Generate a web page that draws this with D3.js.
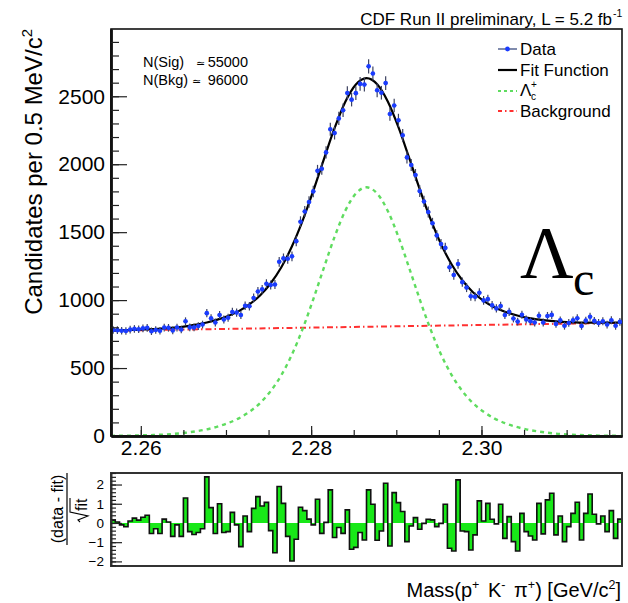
<!DOCTYPE html>
<html>
<head>
<meta charset="utf-8">
<script src="https://d3js.org/d3.v7.min.js"></script>
<style>
  body { margin: 0; background: #fff; }
</style>
</head>
<body>
<svg id="chart" width="628" height="603" font-family="Liberation Sans, Arial, Helvetica, sans-serif"></svg>
<script>
// binning of the mass histogram (GeV/c^2)
const massMin = 2.2565, massMax = 2.3165, binWidth = 0.0005;

// candidates per bin
const counts = [780,779,775,773,783,788,786,792,796,771,
  780,774,798,796,777,798,784,844,799,799,
  809,820,904,866,835,890,857,870,913,908,
  890,958,955,1016,1063,1079,1120,1111,1115,1282,
  1307,1304,1322,1434,1577,1652,1722,1800,1951,1967,
  2087,2257,2229,2337,2397,2524,2475,2523,2591,2586,
  2720,2667,2544,2526,2597,2369,2432,2323,2213,2050,
  1994,1921,1802,1726,1648,1566,1476,1412,1384,1242,
  1185,1266,1132,1092,1028,1024,1054,998,1007,962,
  939,957,890,914,865,842,892,858,845,835,
  885,835,883,891,825,851,811,832,851,867,
  810,849,878,847,832,844,820,852,811,840];

// (data - fit)/sqrt(fit) per bin, lower panel
const pulls = [0.15,0.05,-0.1,-0.2,0.1,0.25,0.15,0.3,0.4,-0.55,
  -0.3,-0.55,0.2,0.05,-0.7,-0.1,-0.7,1.3,-0.45,-0.6,
  -0.5,-0.3,2.4,0.8,-0.55,1.0,-0.5,-0.45,0.55,-0.1,
  -1.23,0.36,-0.45,0.76,1.37,0.88,1.07,-0.4,-1.55,1.9,
  1.02,-0.7,-1.98,-0.85,0.82,0.64,0.2,-0.1,1.23,-0.54,
  0.03,1.72,-0.76,-0.24,-0.54,0.68,-1.37,-1.27,-0.5,-0.89,
  1.72,0.97,-0.9,-0.42,2.07,-1.2,1.58,1.06,0.6,-0.97,
  -0.16,0.28,-0.33,-0.02,0.19,0.16,-0.19,-0.02,0.97,-1.32,
  -1.46,2.24,-0.42,-0.45,-1.41,-0.62,1.15,0.1,1.02,0.19,
  -0.05,0.97,-0.8,0.33,-0.97,-1.46,0.5,-0.45,-0.68,-0.89,
  1.02,-0.57,1.2,1.55,-0.62,0.36,-0.97,-0.19,0.5,1.08,
  -0.89,0.5,1.51,0.45,-0.05,0.36,-0.45,0.64,-0.8,0.2];

// fit curves sampled every 1.25 MeV from massMin
const fitStep = 0.00125;
const fitTotal = [776,778,780,784,787,792,798,807,820,835,
  856,883,919,969,1034,1124,1242,1396,1585,1804,
  2038,2265,2458,2587,2634,2589,2462,2273,2048,1816,
  1599,1412,1262,1146,1058,995,948,915,890,871,
  858,849,842,838,835,834,834,834,834];
const signalCurve = [1,2,3,5,7,11,16,24,35,49,
  69,95,130,178,242,331,448,600,788,1006,
  1239,1465,1656,1784,1830,1784,1656,1465,1239,1006,
  788,600,448,331,242,178,130,95,69,49,
  35,24,16,11,7,5,3,2,1];
const bgMass = [2.2565, 2.3165];
const bgLevel = [775, 833];

const xTicks = [2.26, 2.28, 2.30];
const yTicks = [0, 500, 1000, 1500, 2000, 2500];
const pullTicks = [-2, -1, 0, 1, 2];

const svg = d3.select("#chart");
const sans = "Liberation Sans, Arial, Helvetica, sans-serif";
const serif = "Liberation Serif, Times New Roman, serif";

// layout
const plotL = 111, plotR = 622, plotT = 29, plotB = 436;
const pullT = 473, pullB = 566;

const x = d3.scaleLinear().domain([massMin, massMax]).range([plotL, plotR]);
const y = d3.scaleLinear().domain([0, 2995]).range([plotB, plotT]);
const yp = d3.scaleLinear().domain([-2.24, 2.6]).range([pullB, pullT]);

svg.append("defs").append("clipPath").attr("id", "clipTop")
  .append("rect").attr("x", plotL).attr("y", plotT)
  .attr("width", plotR - plotL).attr("height", plotB - plotT);

// upper frame
svg.append("rect").attr("x", plotL).attr("y", plotT)
  .attr("width", plotR - plotL).attr("height", plotB - plotT)
  .attr("fill", "none").attr("stroke", "#111").attr("stroke-width", 1.6);

const curves = svg.append("g").attr("clip-path", "url(#clipTop)");

const gridMass = (d, i) => massMin + i * fitStep;

curves.append("path")
  .attr("d", d3.line().x((d, i) => x(bgMass[i])).y(d => y(d))(bgLevel))
  .attr("fill", "none").attr("stroke", "#ff3030").attr("stroke-width", 2)
  .attr("stroke-dasharray", "6,3,1.5,3");

curves.append("path")
  .attr("d", d3.line().x((d, i) => x(gridMass(d, i))).y(d => y(d)).curve(d3.curveMonotoneX)(signalCurve))
  .attr("fill", "none").attr("stroke", "#5fdc5f").attr("stroke-width", 2.4)
  .attr("stroke-dasharray", "4,4");

curves.append("path")
  .attr("d", d3.line().x((d, i) => x(gridMass(d, i))).y(d => y(d)).curve(d3.curveMonotoneX)(fitTotal))
  .attr("fill", "none").attr("stroke", "#000").attr("stroke-width", 2.2);

// data points with errors
const pts = curves.append("g").selectAll("g").data(counts).join("g");
pts.append("line")
  .attr("x1", (d, i) => x(massMin + (i + 0.5) * binWidth))
  .attr("x2", (d, i) => x(massMin + (i + 0.5) * binWidth))
  .attr("y1", d => y(d - Math.sqrt(d))).attr("y2", d => y(d + Math.sqrt(d)))
  .attr("stroke", "#3c4260").attr("stroke-width", 1.2);
pts.append("line")
  .attr("x1", (d, i) => x(massMin + i * binWidth))
  .attr("x2", (d, i) => x(massMin + (i + 1) * binWidth))
  .attr("y1", d => y(d)).attr("y2", d => y(d))
  .attr("stroke", "#3c4260").attr("stroke-width", 1.1);
pts.append("circle")
  .attr("cx", (d, i) => x(massMin + (i + 0.5) * binWidth))
  .attr("cy", d => y(d)).attr("r", 2.3)
  .attr("fill", "#1a3cff");

// axes of upper panel
const gy = svg.append("g").attr("transform", `translate(${plotL},0)`)
  .call(d3.axisLeft(y).tickValues(yTicks).tickSize(-16).tickSizeOuter(0).tickPadding(6).tickFormat(d3.format("d")));
svg.append("g").attr("transform", `translate(${plotL},0)`)
  .call(d3.axisLeft(y).tickValues(d3.range(0, 3000, 100)).tickSize(-8).tickSizeOuter(0).tickFormat(""));
const gx = svg.append("g").attr("transform", `translate(0,${plotB})`)
  .call(d3.axisBottom(x).tickValues(xTicks).tickSize(-10).tickSizeOuter(0).tickPadding(4).tickFormat(d3.format(".2f")));
svg.append("g").attr("transform", `translate(0,${plotB})`)
  .call(d3.axisBottom(x).tickValues(d3.range(2.26, 2.3166, 0.005)).tickSize(-6).tickSizeOuter(0).tickFormat(""));

svg.selectAll(".domain").attr("stroke", "#111").attr("stroke-width", 2.4);
svg.selectAll(".tick line").attr("stroke", "#222").attr("stroke-width", 1.3);
gy.selectAll("text").attr("font-size", 21).attr("font-family", sans);
gx.selectAll("text").attr("font-size", 21).attr("font-family", sans);

// axis titles
svg.append("text")
  .attr("transform", "translate(42,29) rotate(-90)")
  .attr("text-anchor", "end").attr("font-size", 24)
  .call(t => {
    t.append("tspan").text("Candidates per 0.5 MeV/c");
    t.append("tspan").attr("font-size", 15).attr("dy", -10).text("2");
  });

const xt = svg.append("text").attr("x", 621).attr("y", 597)
  .attr("text-anchor", "end").attr("font-size", 20);
[["Mass(p", 0, 0], ["+", 1, 0], [" K", 0, 3], ["-", 1, 0], [" π", 0, 3], ["+", 1, 0], [") [GeV/c", 0, 0], ["2", 1, 0], ["]", 0, 0]]
  .forEach(([s, sup, gap], i, arr) => {
    const prevSup = i > 0 && arr[i - 1][1];
    const dy = sup ? -8 : (prevSup ? 8 : 0);
    xt.append("tspan").attr("dy", dy).attr("dx", gap)
      .attr("font-size", sup ? 12.5 : 20).text(s);
  });

// header
svg.append("text").attr("x", 612).attr("y", 25).attr("text-anchor", "end")
  .attr("font-size", 17).text("CDF Run II preliminary, L = 5.2 fb");
svg.append("text").attr("x", 613).attr("y", 17).attr("font-size", 10.5).text("-1");

// yields
const yields = [["N(Sig)", "55000", 67, 196], ["N(Bkg)", "96000", 85, 192]];
yields.forEach(([lab, val, yy, xs]) => {
  svg.append("text").attr("x", 143).attr("y", yy).attr("font-size", 14.5).text(lab);
  svg.append("text").attr("x", xs).attr("y", yy).attr("font-size", 11)
    .attr("font-family", "DejaVu Sans, sans-serif").text("≃");
  svg.append("text").attr("x", 248).attr("y", yy).attr("text-anchor", "end").attr("font-size", 14.5).text(val);
});

// legend
const legendY = [55, 76, 97, 117];
const lg = svg.append("g");
const symY = i => legendY[i] - 6;
lg.append("line").attr("x1", 498).attr("x2", 517).attr("y1", symY(0)).attr("y2", symY(0))
  .attr("stroke", "#4a5a8a").attr("stroke-width", 1.4);
lg.append("circle").attr("cx", 507.5).attr("cy", symY(0)).attr("r", 2.4).attr("fill", "#1a3cff");
lg.append("line").attr("x1", 498).attr("x2", 517).attr("y1", symY(1)).attr("y2", symY(1))
  .attr("stroke", "#000").attr("stroke-width", 2.2);
lg.append("line").attr("x1", 498).attr("x2", 517).attr("y1", symY(2)).attr("y2", symY(2))
  .attr("stroke", "#5fdc5f").attr("stroke-width", 2.2).attr("stroke-dasharray", "3,3");
lg.append("line").attr("x1", 498).attr("x2", 517).attr("y1", symY(3)).attr("y2", symY(3))
  .attr("stroke", "#ff3030").attr("stroke-width", 2).attr("stroke-dasharray", "4,3,1.5,3");
lg.append("text").attr("x", 520).attr("y", legendY[0]).attr("font-size", 17).text("Data");
lg.append("text").attr("x", 520).attr("y", legendY[1]).attr("font-size", 17).text("Fit Function");
lg.append("text").attr("x", 520).attr("y", legendY[2] - 1).attr("font-size", 17).text("Λ");
lg.append("text").attr("x", 531).attr("y", legendY[2] - 9).attr("font-size", 10).text("+");
lg.append("text").attr("x", 531).attr("y", legendY[2] + 3).attr("font-size", 10).text("c");
lg.append("text").attr("x", 520).attr("y", legendY[3]).attr("font-size", 17).text("Background");

// big Lambda_c label
svg.append("text").attr("x", 520).attr("y", 278).attr("font-size", 74)
  .attr("font-family", serif).text("Λ");
svg.append("text").attr("x", 573).attr("y", 295).attr("font-size", 48)
  .attr("font-family", serif).text("c");

// lower panel: pulls
const pullPts = pulls.map((p, i) => [massMin + i * binWidth, p]);
pullPts.push([massMax, pulls[pulls.length - 1]]);
svg.append("path")
  .attr("d", d3.area().x(d => x(d[0])).y0(yp(0)).y1(d => yp(d[1])).curve(d3.curveStepAfter)(pullPts))
  .attr("fill", "#18e818");
svg.append("path")
  .attr("d", d3.line().x(d => x(d[0])).y(d => yp(d[1])).curve(d3.curveStepAfter)(pullPts))
  .attr("fill", "none").attr("stroke", "#111").attr("stroke-width", 1.6);

svg.append("rect").attr("x", plotL).attr("y", pullT)
  .attr("width", plotR - plotL).attr("height", pullB - pullT)
  .attr("fill", "none").attr("stroke", "#333").attr("stroke-width", 2);

const gp = svg.append("g").attr("transform", `translate(${plotL},0)`)
  .call(d3.axisLeft(yp).tickValues(pullTicks).tickSize(-11).tickSizeOuter(0).tickPadding(7).tickFormat(d3.format("d")));
svg.append("g").attr("transform", `translate(${plotL},0)`)
  .call(d3.axisLeft(yp).tickValues(d3.range(-2.2, 2.61, 0.2)).tickSize(-5).tickSizeOuter(0).tickFormat(""))
  .call(g => g.select(".domain").remove());
gp.select(".domain").attr("stroke", "#333").attr("stroke-width", 2);
gp.selectAll("text").attr("font-size", 13.5).attr("font-family", sans);
svg.selectAll(".tick line").attr("stroke", "#222").attr("stroke-width", 1.2);

// (data - fit)/sqrt(fit) label
const pl = svg.append("g").attr("transform", "translate(67,509) rotate(-90)");
pl.append("text").attr("x", 0).attr("y", -4).attr("text-anchor", "middle").attr("font-size", 16).text("(data - fit)");
pl.append("line").attr("x1", -36).attr("x2", 36).attr("y1", 0).attr("y2", 0).attr("stroke", "#000").attr("stroke-width", 1.2);
pl.append("text").attr("x", -2).attr("y", 20).attr("font-size", 16).text("fit");
pl.append("path").attr("d", "M-13,13 L-11,11 L-7,21 L-3,3 L11,3")
  .attr("fill", "none").attr("stroke", "#000").attr("stroke-width", 1.1);
</script>
</body>
</html>
